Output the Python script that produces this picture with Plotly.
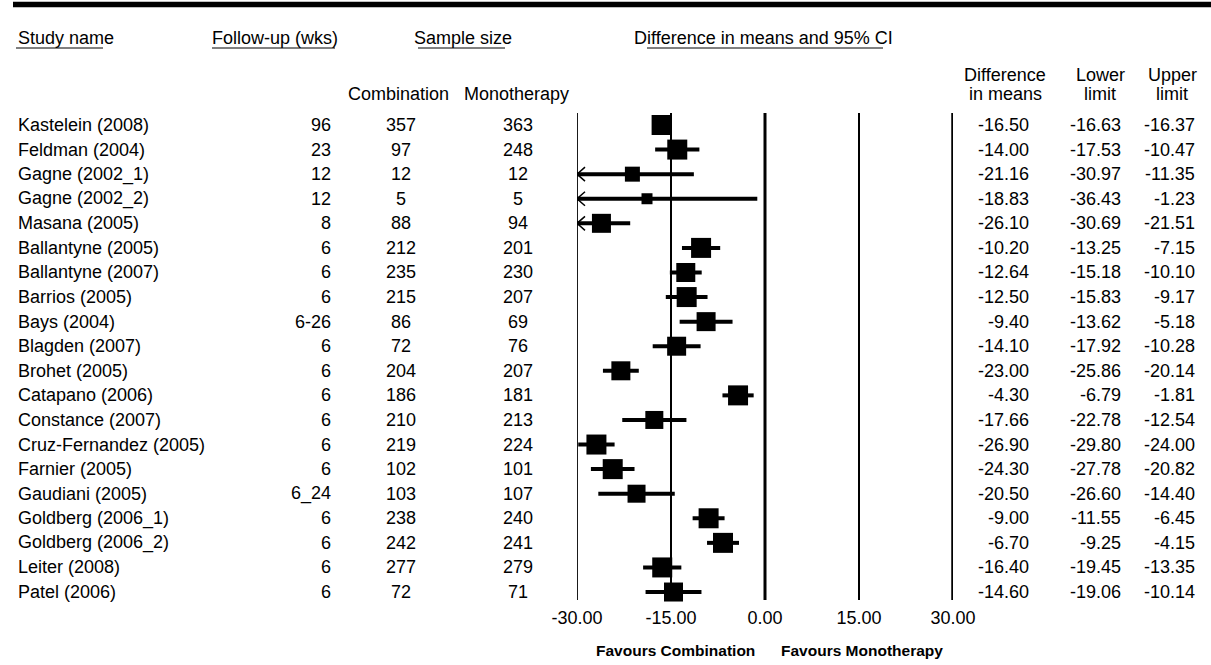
import plotly.graph_objects as go

# ---------------- data ----------------
studies = ["Kastelein (2008)", "Feldman (2004)", "Gagne (2002_1)", "Gagne (2002_2)", "Masana (2005)",
           "Ballantyne (2005)", "Ballantyne (2007)", "Barrios (2005)", "Bays (2004)", "Blagden (2007)",
           "Brohet (2005)", "Catapano (2006)", "Constance (2007)", "Cruz-Fernandez (2005)", "Farnier (2005)",
           "Gaudiani (2005)", "Goldberg (2006_1)", "Goldberg (2006_2)", "Leiter (2008)", "Patel (2006)"]
followup = ["96", "23", "12", "12", "8", "6", "6", "6", "6-26", "6", "6", "6", "6", "6", "6", "6_24",
            "6", "6", "6", "6"]
comb_n = [357, 97, 12, 5, 88, 212, 235, 215, 86, 72, 204, 186, 210, 219, 102, 103, 238, 242, 277, 72]
mono_n = [363, 248, 12, 5, 94, 201, 230, 207, 69, 76, 207, 181, 213, 224, 101, 107, 240, 241, 279, 71]
diff = [-16.50, -14.00, -21.16, -18.83, -26.10, -10.20, -12.64, -12.50, -9.40, -14.10, -23.00, -4.30,
        -17.66, -26.90, -24.30, -20.50, -9.00, -6.70, -16.40, -14.60]
lower = [-16.63, -17.53, -30.97, -36.43, -30.69, -13.25, -15.18, -15.83, -13.62, -17.92, -25.86, -6.79,
         -22.78, -29.80, -27.78, -26.60, -11.55, -9.25, -19.45, -19.06]
upper = [-16.37, -10.47, -11.35, -1.23, -21.51, -7.15, -10.10, -9.17, -5.18, -10.28, -20.14, -1.81,
         -12.54, -24.00, -20.82, -14.40, -6.45, -4.15, -13.35, -10.14]
tick_vals = [-30, -15, 0, 15, 30]
tick_text = ["-30.00", "-15.00", "0.00", "15.00", "30.00"]

# ---------------- style ----------------
W, H = 1211, 665
FONT = "Liberation Sans, Arial, sans-serif"
FS = 18
marker_px = [20, 20, 15, 11, 19, 20, 19, 20, 19, 19, 19, 20, 18, 20, 20, 18, 20, 20, 20, 19]
XMIN, XMAX = -30, 30
ROW0_PX, ROW_STEP = 125, 24.58
PLOT_BOTTOM_PX = 600


def px(x):
    return x / W


def py(y):
    return 1 - y / H


n = len(studies)
rows = list(range(n))
r0 = -ROW0_PX / ROW_STEP
r1 = r0 + PLOT_BOTTOM_PX / ROW_STEP

fig = go.Figure()

# CI lines (clipped to axis)
cx, cy = [], []
for i in rows:
    cx += [max(lower[i], XMIN), min(upper[i], XMAX), None]
    cy += [i, i, None]
fig.add_trace(go.Scatter(x=cx, y=cy, mode="lines", line=dict(color="black", width=4),
                         hoverinfo="skip", showlegend=False, cliponaxis=False))

# arrows where CI exceeds the axis
ax_, ay_ = [], []
dx = 8 * (XMAX - XMIN) / (953 - 577)
dy = 7 / ROW_STEP
for i in rows:
    if lower[i] < XMIN:
        ax_ += [XMIN + dx, XMIN, XMIN + dx, None]
        ay_ += [i - dy, i, i + dy, None]
fig.add_trace(go.Scatter(x=ax_, y=ay_, mode="lines", line=dict(color="black", width=1.5),
                         hoverinfo="skip", showlegend=False, cliponaxis=False))

# point estimates
fig.add_trace(go.Scatter(x=diff, y=rows, mode="markers",
                         marker=dict(symbol="square", size=marker_px, color="black", opacity=1,
                                     line=dict(width=0)),
                         showlegend=False, cliponaxis=False))

shapes = []
# vertical reference lines
vline_w = {-30: 1.8, -15: 2, 0: 3, 15: 2, 30: 3.5}
for v in tick_vals:
    shapes.append(dict(type="line", xref="x", yref="paper", x0=v, x1=v, y0=py(113), y1=py(PLOT_BOTTOM_PX),
                       line=dict(color="black", width=vline_w[v])))
# top rule
shapes.append(dict(type="line", xref="paper", yref="paper", x0=px(13), x1=1, y0=py(4.5), y1=py(4.5),
                   line=dict(color="black", width=5.5)))
# header underlines
for a, b in [(16, 103), (212, 335), (418, 505), (647, 883)]:
    shapes.append(dict(type="line", xref="paper", yref="paper", x0=px(a), x1=px(b), y0=py(48), y1=py(48),
                       line=dict(color="black", width=1)))

ann = []


def text(s, x, y, xanchor="left", yref="paper", size=FS, bold=False):
    ann.append(dict(text=("<b>%s</b>" % s) if bold else s, x=px(x), xref="paper",
                    y=(py(y) if yref == "paper" else y), yref=yref,
                    xanchor=xanchor, yanchor="middle", showarrow=False,
                    font=dict(family=FONT, size=size, color="black")))


# headers
text("Study name", 16, 38)
text("Follow-up (wks)", 210, 38)
text("Sample size", 412, 38)
text("Difference in means and 95% CI", 632, 38)
text("Combination", 398, 94, "center")
text("Monotherapy", 516, 94, "center")
text("Difference", 1005, 75, "center")
text("in means", 1005, 94, "center")
text("Lower", 1100, 75, "center")
text("limit", 1100, 94, "center")
text("Upper", 1172, 75, "center")
text("limit", 1172, 94, "center")

# rows
for i in rows:
    text(studies[i], 16, i, "left", "y")
    text(followup[i], 333, i, "right", "y")
    text(str(comb_n[i]), 401, i, "center", "y")
    text(str(mono_n[i]), 518, i, "center", "y")
    text("%.2f" % diff[i], 1031, i, "right", "y")
    text("%.2f" % lower[i], 1123, i, "right", "y")
    text("%.2f" % upper[i], 1197, i, "right", "y")

# favours labels
text("Favours Combination", 675, 650, "center", size=15.5, bold=True)
text("Favours Monotherapy", 862, 650, "center", size=15.5, bold=True)

fig.update_layout(
    template="none", autosize=False,
    width=W, height=H, margin=dict(l=0, r=0, t=0, b=0, pad=0, autoexpand=False),
    paper_bgcolor="white", plot_bgcolor="white",
    shapes=shapes, annotations=ann, showlegend=False,
    xaxis=dict(domain=[px(577), px(953)], range=[XMIN, XMAX], tickvals=tick_vals, ticktext=tick_text,
               showgrid=False, zeroline=False, showline=False, ticks="outside", ticklen=1,
               tickcolor="rgba(0,0,0,0)", tickfont=dict(family=FONT, size=FS, color="black"),
               automargin=False, fixedrange=True),
    yaxis=dict(domain=[1 - PLOT_BOTTOM_PX / H, 1], range=[r1, r0], showgrid=False, zeroline=False,
               showline=False, showticklabels=False, ticks="", automargin=False, fixedrange=True),
)

fig.write_html("out.html", include_plotlyjs=True, full_html=True,
               config={"responsive": False, "displayModeBar": False},
               post_script="document.body.style.margin='0px';document.body.style.overflow='hidden';")
